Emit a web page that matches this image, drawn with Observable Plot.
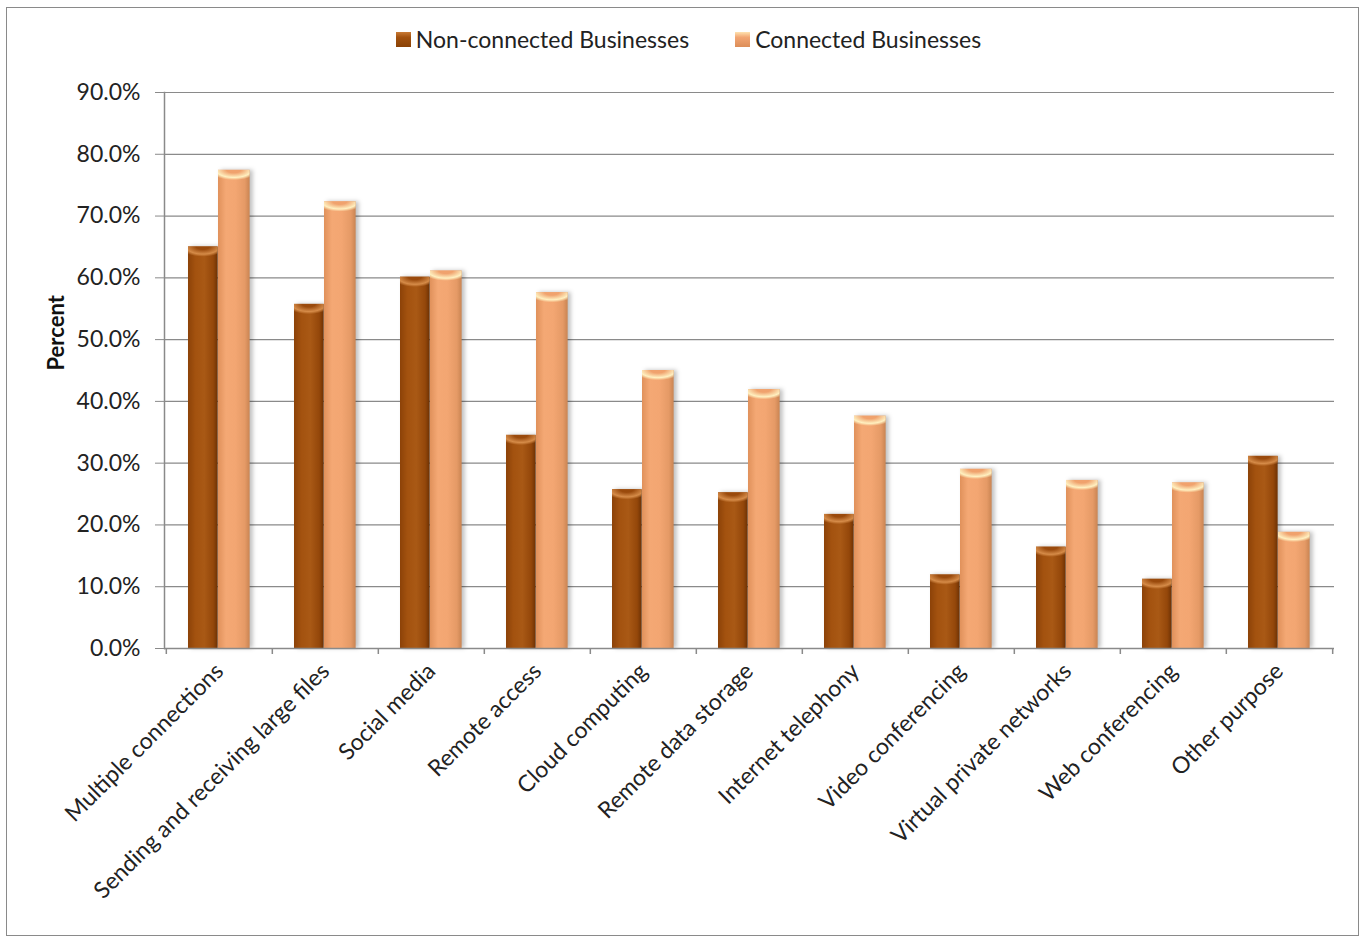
<!DOCTYPE html>
<html>
<head>
<meta charset="utf-8">
<script src="https://cdn.jsdelivr.net/npm/d3@7"></script>
<script src="https://cdn.jsdelivr.net/npm/@observablehq/plot@0.6"></script>
<style>
  body { margin: 0; background: #fff; font-family: Lato, "Open Sans", sans-serif; }
  #wrap { position: relative; width: 1367px; height: 936px; overflow: hidden; }
  #border { position: absolute; left: 6px; top: 7px; width: 1351px; height: 927px; border: 1.5px solid #8a8a8a; }
  #legend { position: relative; height: 60px; width: 1367px; display: flex; justify-content: center; align-items: center; gap: 46px; font-size: 23px; color: #222; padding-left: 10px; box-sizing: border-box; padding-top: 18px; }
  .item { display: flex; align-items: center; gap: 5px; }
  .sw { width: 15px; height: 15px; display: inline-block; }
  #chart { position: relative; }
</style>
</head>
<body>
<div id="wrap">
  <div id="border"></div>
  <div id="legend"></div>
  <div id="chart"></div>
</div>
<script>
const categories = [
  "Multiple connections",
  "Sending and receiving large files",
  "Social media",
  "Remote access",
  "Cloud computing",
  "Remote data storage",
  "Internet telephony",
  "Video conferencing",
  "Virtual private networks",
  "Web conferencing",
  "Other purpose"
];
const seriesNames = ["Non-connected Businesses", "Connected Businesses"];
const nonConnected = [65.0, 55.7, 60.1, 34.5, 25.7, 25.2, 21.7, 11.9, 16.4, 11.2, 31.1];
const connected = [77.4, 72.3, 61.1, 57.6, 45.0, 41.9, 37.6, 29.0, 27.2, 26.8, 18.8];
const yTicks = [0, 10, 20, 30, 40, 50, 60, 70, 80, 90];

const rows = [];
categories.forEach((c, i) => {
  rows.push({category: c, series: seriesNames[0], value: nonConnected[i]});
  rows.push({category: c, series: seriesNames[1], value: connected[i]});
});
const nonRows = rows.filter(d => d.series === seriesNames[0]);
const conRows = rows.filter(d => d.series === seriesNames[1]);

// legend
const legend = document.getElementById("legend");
const swatchBg = [
  "linear-gradient(180deg,#c97a35 0%,#a3520f 35%,#8a4206 100%)",
  "linear-gradient(180deg,#ffe2b0 0%,#f2a673 35%,#dc8d58 100%)"
];
seriesNames.forEach((s, i) => {
  const it = document.createElement("div");
  it.className = "item";
  it.innerHTML = `<span class="sw" style="background:${swatchBg[i]}"></span><span>${s}</span>`;
  legend.appendChild(it);
});

const W = 1367, H = 876;
const mL = 164, mR = 33, mT = 32, mB = 288;
const bw = (W - mL - mR) / categories.length;

const plot = Plot.plot({
  width: W,
  height: H,
  marginLeft: mL,
  marginRight: mR,
  marginTop: mT,
  marginBottom: mB,
  style: {fontFamily: "Lato, 'Open Sans', sans-serif", fontSize: "23px", color: "#222", background: "transparent"},
  x: {domain: categories, padding: 0, label: null},
  y: {domain: [0, 90], label: null},
  marks: [
    Plot.gridY(yTicks, {stroke: "#8a8a8a", strokeOpacity: 1, strokeWidth: 1.2}),
    Plot.barY(nonRows, {x: "category", y: "value", fill: "url(#gNon)", insetLeft: 22, insetRight: bw - 52, className: "bar"}),
    Plot.barY(conRows, {x: "category", y: "value", fill: "url(#gCon)", insetLeft: 52, insetRight: bw - 84, className: "bar"}),
    Plot.barY(nonRows, {x: "category", y1: d => d.value - 2.2, y2: "value", fill: "url(#cNon)", insetLeft: 22, insetRight: bw - 52}),
    Plot.barY(conRows, {x: "category", y1: d => d.value - 2.2, y2: "value", fill: "url(#cCon)", insetLeft: 52, insetRight: bw - 84}),
    Plot.ruleY([0], {stroke: "#8a8a8a", strokeWidth: 1.5}),
    Plot.ruleX(categories, {x: d => d, dx: -bw / 2, y1: 0, y2: 0, insetBottom: -6, stroke: "#8a8a8a", strokeWidth: 1.5}),
    Plot.ruleX(categories.slice(-1), {x: d => d, dx: bw / 2, y1: 0, y2: 0, insetBottom: -6, stroke: "#8a8a8a", strokeWidth: 1.5}),
    Plot.frame({anchor: "left", stroke: "#8a8a8a", strokeWidth: 1.5}),
    Plot.axisY({ticks: yTicks, tickSize: 9, tickPadding: 15, stroke: "#8a8a8a", tickFormat: d => d.toFixed(1) + "%", fill: "#222"}),
    Plot.axisX({tickSize: 0, tickRotate: -45, tickPadding: 19, fill: "#222"}),
    Plot.text(["Percent"], {frameAnchor: "left", dx: -108, rotate: -90, fontWeight: "bold", fontSize: 22, fill: "#111"})
  ]
});

// gradients for cylinder look
const svg = d3.select(plot);
const defs = svg.insert("defs", ":first-child");
function hgrad(id, stops) {
  const g = defs.append("linearGradient").attr("id", id).attr("x1", "0").attr("x2", "1").attr("y1", "0").attr("y2", "0");
  stops.forEach(([o, c]) => g.append("stop").attr("offset", o).attr("stop-color", c));
}
hgrad("gNon", [[0, "#8c4208"], [0.25, "#a3520f"], [0.55, "#a95915"], [0.85, "#94470a"], [1, "#6e3204"]]);
hgrad("gCon", [[0, "#e0915b"], [0.25, "#f4a874"], [0.55, "#f3a672"], [0.85, "#e59a66"], [1, "#c98452"]]);
function rgrad(id, inner, outer) {
  const g = defs.append("radialGradient").attr("id", id).attr("cx", "0.5").attr("cy", "0").attr("r", "0.75");
  g.append("stop").attr("offset", 0).attr("stop-color", outer);
  g.append("stop").attr("offset", 0.3).attr("stop-color", outer);
  g.append("stop").attr("offset", 0.75).attr("stop-color", inner);
  g.append("stop").attr("offset", 1).attr("stop-color", inner).attr("stop-opacity", 0);
}
rgrad("cNon", "#d58b48", "#9a4a0c");
rgrad("cCon", "#fff0c0", "#f0a26d");
svg.selectAll(".bar").style("filter", "drop-shadow(3px 0px 2px rgba(0,0,0,0.25))");

document.getElementById("chart").appendChild(plot);
</script>
</body>
</html>
